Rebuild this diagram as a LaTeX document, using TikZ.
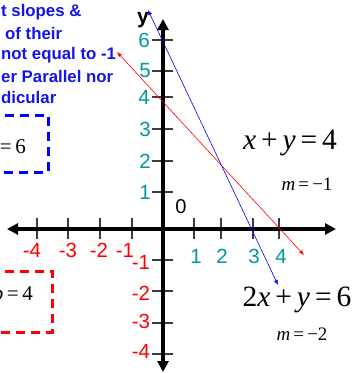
\documentclass[tikz,border=0pt]{standalone}
\usepackage{fontspec}
\setmainfont{Liberation Serif}
\newfontfamily\arial{Liberation Sans}
\usetikzlibrary{arrows.meta}
\definecolor{tealc}{RGB}{0,153,153}
\definecolor{tickc}{RGB}{60,60,60}
\tikzset{
  axisline/.style={line width=3.6pt,{Triangle[width=11pt,length=11pt]}-{Triangle[width=11pt,length=11pt]}},
  tickmark/.style={line width=1.1pt,draw=tickc},
  poslab/.style={font=\arial\fontsize{20.5}{22}\selectfont,text=tealc,inner sep=0pt},
  neglab/.style={font=\arial\fontsize{20.5}{22}\selectfont,text=red,inner sep=0pt},
  eqbig/.style={font=\fontsize{29.5}{32}\selectfont,inner sep=0pt},
  eqsmall/.style={font=\fontsize{19}{21}\selectfont,inner sep=0pt},
  bluetxt/.style={font=\arial\bfseries\fontsize{16.8}{20}\selectfont,text={rgb,255:red,20;green,20;blue,235},inner sep=0pt,anchor=east},
  graphline/.style={line width=0.6pt,{Latex[length=5pt,width=4pt]}-{Latex[length=5pt,width=4pt]}},
  dashbox/.style={line width=3pt,dash pattern=on 9pt off 6pt},
  boxtxt/.style={font=\fontsize{21}{23}\selectfont,inner sep=0pt}
}
\begin{document}
\begin{tikzpicture}[x=1pt,y=-1pt]
\useasboundingbox (0,0) rectangle (356,373);
\clip (0,0) rectangle (356,373);
% coordinates
\coordinate (yb) at (163,372);
\coordinate (yt) at (163,19);
\coordinate (xl) at (7,229);
\coordinate (xr) at (336,229);
% ticks on x-axis
\foreach \x in {37,68,100,132,194,221,253,279}{\draw[tickmark] (\x,218) -- (\x,239);}
% ticks on y-axis
\foreach \y in {40,71,97,129,161,192,260,291,323,354}{\draw[tickmark] (152,\y) -- (173,\y);}
% axes
\draw[axisline] (xl) -- (xr);
\draw[axisline] (yb) -- (yt);
% graph lines
\coordinate (r1) at (117,52);
\coordinate (r2) at (304,255);
\coordinate (b1) at (148,10);
\coordinate (b2) at (278,285);
\draw[graphline,red] (r1) -- (r2);
\draw[graphline,blue] (b1) -- (b2);
% axis labels
\node[font=\arial\bfseries\fontsize{21}{22}\selectfont,inner sep=0pt] (ylab) at (143,20) {y};
\node[font=\arial\fontsize{20}{22}\selectfont,inner sep=0pt] (zero) at (181,207) {0};
\node[poslab] (y6) at (144,40) {6};
\node[poslab] (y5) at (145,71) {5};
\node[poslab] (y4) at (144,97) {4};
\node[poslab] (y3) at (145,129) {3};
\node[poslab] (y2) at (145,161) {2};
\node[poslab] (y1) at (145,192) {1};
\node[neglab] (ym1) at (141,262) {-1};
\node[neglab] (ym2) at (141,293) {-2};
\node[neglab] (ym3) at (141,321) {-3};
\node[neglab] (ym4) at (141,351) {-4};
\node[neglab] (xm4) at (32,250) {-4};
\node[neglab] (xm3) at (68,250) {-3};
\node[neglab] (xm2) at (99,250) {-2};
\node[neglab] (xm1) at (125,250) {-1};
\node[poslab] (x1) at (196,256) {1};
\node[poslab] (x2) at (222,256) {2};
\node[poslab] (x3) at (254,256) {3};
\node[poslab] (x4) at (281,256) {4};
% equations
\node[eqbig] (eq1) at (290,143) {\textit{x}\,+\,\textit{y}\,=\,4};
\node[eqsmall] (m1) at (307,184) {\textit{m}\,=\,−1};
\node[eqbig] (eq2) at (297,300) {2\textit{x}\,+\,\textit{y}\,=\,6};
\node[eqsmall] (m2) at (302,334) {\textit{m}\,=\,−2};
% blue text
\node[bluetxt,anchor=west] (t1) at (1,12) {t slopes \&};
\node[bluetxt,anchor=west] (t2) at (5,33) {of their};
\node[bluetxt,anchor=west] (t3) at (1,55) {not equal to -1};
\node[bluetxt,anchor=west] (t4) at (1,76) {er Parallel nor};
\node[bluetxt,anchor=west] (t5) at (1,97) {dicular};
% dashed boxes
\draw[dashbox,blue] (-10,115) -- (48,115) -- (48,172) -- (-10,172);
\draw[dashbox,red] (-10,271) -- (52,271) -- (52,332) -- (-10,332);
\node[boxtxt,anchor=east] (bx1) at (26,147) {=\,6};
\node[boxtxt,anchor=east] (bx2) at (33,293) {\textit{b}\,=\,4};
\end{tikzpicture}
\end{document}
